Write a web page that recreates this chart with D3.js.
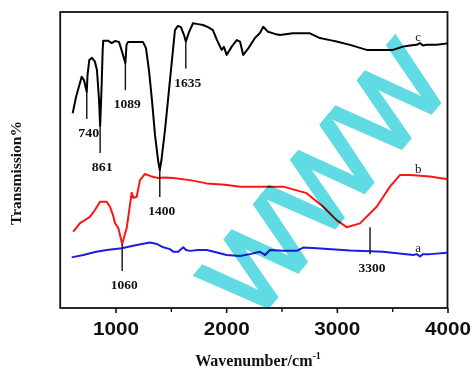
<!DOCTYPE html>
<html><head><meta charset="utf-8">
<script src="https://cdn.jsdelivr.net/npm/d3@7/dist/d3.min.js"></script>
<style>html,body{margin:0;padding:0;background:#fff;} svg{display:block;}</style>
</head><body><svg id="chart" width="472" height="370"></svg>
<script>
// FTIR spectra: wavenumber (cm-1) and relative transmission for three samples
const cWave = [613,643,694,715,740,747,763,787,814,832,851,861,873,884,889,932,965,995,1031,1054,1089,1099,1113,1248,1275,1302,1329,1357,1384,1400,1415,1447,1492,1537,1564,1591,1619,1635,1664,1700,1745,1790,1835,1880,1917,1959,1980,2004,2050,2095,2125,2154,2200,2260,2305,2335,2378,2441,2486,2603,2757,2847,2938,2998,3119,3269,3507,3597,3660,3721,3751,3778,3812,3902,4000];
const cTrans = [65.8,71.3,78.1,77.0,73.0,78.7,83.8,84.5,83.2,80.4,70.3,61.5,73.6,87.2,90.3,90.3,89.5,90.2,89.9,87.2,82.7,88.9,89.9,89.9,87.8,80.4,70.3,58.4,50.0,46.6,50.0,60.1,77.0,93.9,95.3,94.9,92.2,90.0,93.2,96.2,95.9,95.6,94.9,93.9,90.5,87.2,88.2,85.5,88.3,90.5,90.0,85.5,87.7,91.2,92.9,95.0,93.3,92.6,92.2,92.8,92.8,91.2,90.5,90.0,88.9,87.2,87.2,88.3,88.7,88.9,89.5,88.7,88.9,88.9,89.4];

const bWave = [618,679,769,814,860,920,950,977,995,1025,1060,1101,1146,1161,1191,1221,1266,1327,1386,1447,1522,1673,1824,1989,2125,2305,2516,2727,2877,2998,3089,3209,3360,3480,3570,3661,3842,4000];
const bTrans = [25.8,28.7,30.8,33.1,35.9,35.9,34.2,31.4,28.7,27.0,21.6,27.0,38.9,37.2,37.6,43.2,45.3,44.4,43.9,44.1,43.9,43.2,42.1,41.6,41.0,41.0,41.0,38.8,34.2,29.7,27.3,28.6,34.2,41.0,44.9,44.9,44.4,43.5];

const aWave = [604,709,814,920,1056,1191,1311,1375,1432,1492,1522,1567,1612,1637,1673,1745,1824,1899,2004,2125,2215,2305,2351,2396,2516,2637,2697,2818,3119,3419,3690,3723,3751,3778,3842,4000];
const aTrans = [17.1,17.9,18.9,19.6,20.2,21.3,22.1,21.6,20.5,19.9,19.0,19.0,20.5,19.6,19.3,19.6,19.6,18.9,17.9,17.6,18.2,19.0,17.9,19.6,19.3,19.3,20.4,20.2,19.4,19.0,17.9,18.2,17.4,18.2,18.2,18.7];

// Band assignments: labelled wavenumber, series, transmission at the band bottom
const bandWave  = [740, 861, 1089, 1635, 1400, 1060, 3300];
const bandSeries = ["c", "c", "c", "c", "c", "b", "b"];
const bandDepth = [73.0, 61.5, 82.7, 90.0, 46.6, 21.6, 27.3];

const seriesNames = ["c", "b", "a"];
const majorTicks = [1000, 2000, 3000, 4000];
const minorTicks = [1500, 2500, 3500];
const xTitle = "Wavenumber/cm";
const xTitleSup = "-1";
const yTitle = "Transmission%";
const watermark = "WWW";

const svg = d3.select("#chart");
const x = d3.scaleLinear().domain([500, 4000]).range([60.2, 447.5]);
const y = d3.scaleLinear().domain([0, 100]).range([308, 12]);

const series = {
  c: { wave: cWave, trans: cTrans, color: "#000000" },
  b: { wave: bWave, trans: bTrans, color: "#ff1414" },
  a: { wave: aWave, trans: aTrans, color: "#1c1ce0" }
};

// frame
svg.append("rect")
  .attr("x", x.range()[0]).attr("y", y.range()[1])
  .attr("width", x.range()[1] - x.range()[0])
  .attr("height", y.range()[0] - y.range()[1])
  .attr("fill", "none").attr("stroke", "#111").attr("stroke-width", 1.8);

// x axis, major and minor ticks
const gx = svg.append("g").attr("transform", `translate(0,${y.range()[0]})`)
  .call(d3.axisBottom(x).tickValues(majorTicks).tickSize(5).tickFormat(d3.format("d")));
gx.select(".domain").remove();
gx.selectAll(".tick line").attr("stroke", "#111").attr("stroke-width", 1.6);
gx.selectAll(".tick text")
  .attr("y", 27).attr("dy", 0)
  .attr("font-family", "'Liberation Sans', Arial, sans-serif")
  .attr("font-weight", "bold").attr("font-size", 18.5)
  .attr("textLength", 46).attr("lengthAdjust", "spacingAndGlyphs")
  .attr("fill", "#111");

const gm = svg.append("g").attr("transform", `translate(0,${y.range()[0]})`)
  .call(d3.axisBottom(x).tickValues(minorTicks).tickSize(4).tickFormat(""));
gm.select(".domain").remove();
gm.selectAll(".tick line").attr("stroke", "#111").attr("stroke-width", 1.4);

// spectra
const line = d3.line().x(d => x(d[0])).y(d => y(d[1]));
seriesNames.forEach(k => {
  const s = series[k];
  const pts = s.wave.map((w, i) => [w, s.trans[i]]);
  svg.append("path").datum(pts)
    .attr("d", line)
    .attr("fill", "none")
    .attr("stroke", s.color)
    .attr("stroke-width", 2)
    .attr("stroke-linejoin", "round");
});

// series letters near the high-wavenumber end
function interp(k, w) {
  const s = series[k];
  const i = d3.bisectLeft(s.wave, w);
  if (i <= 0) return s.trans[0];
  if (i >= s.wave.length) return s.trans[s.wave.length - 1];
  const t = (w - s.wave[i - 1]) / (s.wave[i] - s.wave[i - 1]);
  return s.trans[i - 1] + t * (s.trans[i] - s.trans[i - 1]);
}
seriesNames.forEach(k => {
  svg.append("text")
    .attr("x", x(3735)).attr("y", y(interp(k, 3735)) - 3)
    .attr("text-anchor", "middle")
    .attr("font-family", "'Liberation Serif', 'Times New Roman', serif")
    .attr("font-size", 13).attr("fill", "#222")
    .text(k);
});

// band markers with their wavenumbers
bandWave.forEach((w, i) => {
  const top = y(bandDepth[i]);
  const bottom = top + 27;
  svg.append("line")
    .attr("x1", x(w)).attr("x2", x(w))
    .attr("y1", top).attr("y2", bottom)
    .attr("stroke", "#111").attr("stroke-width", 1.4);
  svg.append("text")
    .attr("x", x(w) + 2).attr("y", bottom + 18)
    .attr("text-anchor", "middle")
    .attr("font-family", "'Liberation Serif', 'Times New Roman', serif")
    .attr("font-weight", "bold").attr("font-size", 11.5)
    .attr("textLength", bandWave[i] >= 1000 ? 27 : 21).attr("lengthAdjust", "spacingAndGlyphs")
    .attr("fill", "#111")
    .text(String(w));
});

// axis titles
const xt = svg.append("text")
  .attr("x", 258).attr("y", 366)
  .attr("text-anchor", "middle")
  .attr("font-family", "'Liberation Serif', 'Times New Roman', serif")
  .attr("font-weight", "bold").attr("font-size", 16).attr("fill", "#111");
xt.append("tspan").text(xTitle);
xt.append("tspan").attr("dy", -7).attr("font-size", 10).text(xTitleSup);

svg.append("text")
  .attr("transform", "translate(21,173) rotate(-90)")
  .attr("text-anchor", "middle")
  .attr("font-family", "'Liberation Serif', 'Times New Roman', serif")
  .attr("font-weight", "bold").attr("font-size", 15.5).attr("fill", "#111")
  .text(yTitle);

// diagonal site mark across the plot
svg.append("text")
  .attr("transform", "translate(324,180) rotate(-50)")
  .attr("text-anchor", "middle").attr("dominant-baseline", "central")
  .attr("font-family", "'Liberation Sans', Arial, sans-serif")
  .attr("font-size", 110)
  .attr("fill", "#4fd6e0").attr("stroke", "#4fd6e0").attr("stroke-width", 4)
  .attr("stroke-linejoin", "miter")
  .attr("opacity", 0.9)
  .style("mix-blend-mode", "multiply")
  .text(watermark);
</script></body></html>
